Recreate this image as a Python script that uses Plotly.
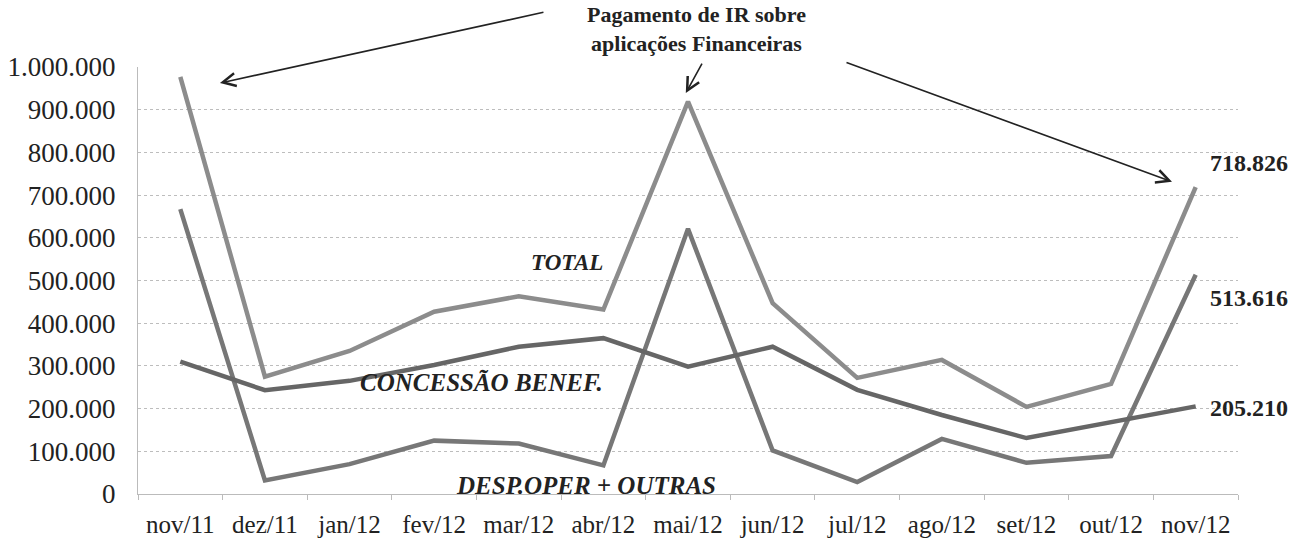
import plotly.graph_objects as go

months = ["nov/11", "dez/11", "jan/12", "fev/12", "mar/12", "abr/12", "mai/12",
          "jun/12", "jul/12", "ago/12", "set/12", "out/12", "nov/12"]
total = [977000, 275000, 335000, 427000, 463000, 432000, 919000,
         447000, 272000, 314000, 204000, 258000, 718826]
concessao = [310000, 243000, 265000, 302000, 345000, 365000, 298000,
             345000, 244000, 185000, 131000, 169000, 205210]
desp = [667000, 32000, 70000, 125000, 118000, 67000, 621000,
        102000, 28000, 129000, 73000, 89000, 513616]

SERIF = "Liberation Serif"

fig = go.Figure()
fig.add_trace(go.Scatter(x=months, y=desp, mode="lines", name="DESP.OPER + OUTRAS",
                         line=dict(color="#777777", width=4.5)))
fig.add_trace(go.Scatter(x=months, y=total, mode="lines", name="TOTAL",
                         line=dict(color="#8c8c8c", width=4.5)))
fig.add_trace(go.Scatter(x=months, y=concessao, mode="lines", name="CONCESSÃO BENEF.",
                         line=dict(color="#666666", width=4.5)))


def fmt(v):
    return f"{v:,}".replace(",", ".")


annotations = []
# series end labels
for vals, ys in ((total, 24), (desp, -23), (concessao, -2)):
    annotations.append(dict(x=months[-1], y=vals[-1], xref="x", yref="y",
                            text=f"<b>{fmt(vals[-1])}</b>", showarrow=False,
                            xanchor="left", yanchor="middle", xshift=12, yshift=ys,
                            font=dict(family=SERIF, size=24, color="#222")))
# series name labels
for txt, px, py, sz in (("TOTAL", 0.39, 0.541, 23), ("CONCESSÃO BENEF.", 0.3127, 0.26, 25),
                        ("DESP.OPER + OUTRAS", 0.4077, 0.021, 25)):
    annotations.append(dict(x=px, y=py, xref="paper", yref="paper",
                            text=f"<b><i>{txt}</i></b>", showarrow=False,
                            xanchor="center", yanchor="middle",
                            font=dict(family=SERIF, size=sz, color="#222")))
# title note
annotations.append(dict(x=0.508, y=1.088, xref="paper", yref="paper",
                        text="<b>Pagamento de IR sobre<br>aplicações Financeiras</b>",
                        showarrow=False, xanchor="center", yanchor="middle",
                        font=dict(family=SERIF, size=22, color="#222")))
# arrows
for hx, hy, ax, ay in ((0.0745, 0.9625, 325, -71), (0.498, 0.939, 17, -31),
                       (0.940, 0.731, -327, -120)):
    annotations.append(dict(x=hx, y=hy, xref="paper", yref="paper", text="",
                            showarrow=True, ax=ax, ay=ay, axref="pixel", ayref="pixel",
                            arrowhead=5, arrowsize=1.6, arrowwidth=1.6,
                            arrowcolor="#222"))

fig.update_layout(
    width=1305, height=543,
    margin=dict(l=138, r=67, t=67, b=49, autoexpand=False),
    paper_bgcolor="white", plot_bgcolor="white",
    separators=",.",
    showlegend=False,
    annotations=annotations,
    font=dict(family=SERIF, color="#222"),
)
fig.update_xaxes(type="category", tickson="boundaries", ticks="outside", ticklen=5,
                 tickcolor="#bbbbbb", showline=True, linecolor="#bbbbbb", linewidth=1,
                 showgrid=False, range=[-0.5, 12.5], automargin=False,
                 ticklabelstandoff=8,
                 tickfont=dict(family=SERIF, size=25, color="#222"))
fig.update_yaxes(range=[0, 1000000], dtick=100000, tickformat=",d",
                 showgrid=True, gridcolor="#bdbdbd", griddash="dot", gridwidth=1,
                 showline=True, linecolor="#bbbbbb", linewidth=1, zeroline=False,
                 ticks="", ticklabelstandoff=16, automargin=False,
                 tickfont=dict(family=SERIF, size=27, color="#222"))

fig.write_html("out.html", config={"displayModeBar": False},
               post_script="document.body.style.margin='0';document.body.style.overflow='hidden';")
